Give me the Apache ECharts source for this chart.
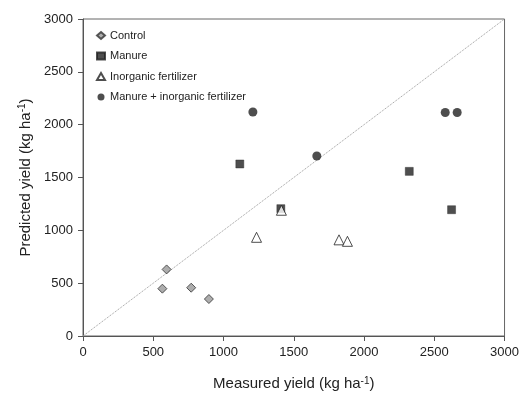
<!DOCTYPE html>
<html><head><meta charset="utf-8">
<script src="https://cdn.jsdelivr.net/npm/echarts@6/dist/echarts.min.js"></script>
<style>html,body{margin:0;padding:0;background:#fff}#c{width:522px;height:397px}</style>
</head><body><div id="c"></div>
<script>
const seriesNames = ['Control', 'Manure', 'Inorganic fertilizer', 'Manure + inorganic fertilizer'];
const control = [[595, 630], [565, 448], [770, 457], [896, 350]];
const manure = [[1116, 1628], [1408, 1205], [2322, 1558], [2623, 1195]];
const inorganic = [[1412, 1190], [1235, 934], [1822, 910], [1882, 896]];
const combined = [[1209, 2120], [1664, 1703], [2578, 2115], [2663, 2115]];
const oneToOne = [[0, 0], [3000, 3000]];
const axisTicks = [0, 500, 1000, 1500, 2000, 2500, 3000];

const chart = echarts.init(document.getElementById('c'), null, {renderer: 'canvas'});
const font = 'Liberation Sans, Arial, sans-serif';
const axisCommon = {
  type: 'value', min: axisTicks[0], max: axisTicks[axisTicks.length - 1], interval: 500,
  splitLine: {show: false},
  axisLine: {show: true, lineStyle: {color: '#555', width: 1}},
  axisTick: {show: true, inside: false, length: 5, lineStyle: {color: '#555'}},
  axisLabel: {color: '#222', fontSize: 13, fontFamily: font, formatter: v => String(v)},
  nameLocation: 'middle',
  nameTextStyle: {
    color: '#222', fontSize: 15, fontFamily: font,
    rich: {sup: {fontSize: 10, fontFamily: font, color: '#222', padding: [0, 0, 6, 0]}}
  }
};
chart.setOption({
  animation: false,
  grid: {left: 83, right: 17, top: 19, bottom: 61, show: true, borderColor: '#666', borderWidth: 1},
  legend: {
    orient: 'vertical', left: 91, top: 25, itemGap: 9.5, itemWidth: 8, itemHeight: 7,
    data: seriesNames,
    textStyle: {color: '#222', fontSize: 11, fontFamily: font}
  },
  xAxis: Object.assign({}, axisCommon, {
    name: 'Measured yield (kg ha{sup|-1})', nameGap: 40,
    axisLabel: Object.assign({}, axisCommon.axisLabel, {margin: 10})
  }),
  yAxis: Object.assign({}, axisCommon, {
    name: 'Predicted yield (kg ha{sup|-1})', nameGap: 47,
    axisLabel: Object.assign({}, axisCommon.axisLabel, {margin: 10})
  }),
  series: [
    {type: 'line', data: oneToOne, symbol: 'none', silent: true, lineStyle: {color: '#999', width: 1, type: [1, 1]}, z: 1},
    {name: seriesNames[0], type: 'scatter', data: control, symbol: 'diamond', symbolSize: 9,
      itemStyle: {color: '#999', borderColor: '#333', borderWidth: 1}},
    {name: seriesNames[1], type: 'scatter', data: manure, symbol: 'rect', symbolSize: 8,
      itemStyle: {color: '#222', borderColor: '#222', borderWidth: 0.5}},
    {name: seriesNames[2], type: 'scatter', data: inorganic, symbol: 'triangle', symbolSize: 10,
      itemStyle: {color: '#fff', borderColor: '#222', borderWidth: 1}},
    {name: seriesNames[3], type: 'scatter', data: combined, symbol: 'circle', symbolSize: 9,
      itemStyle: {color: '#222'}}
  ]
});
</script></body></html>
